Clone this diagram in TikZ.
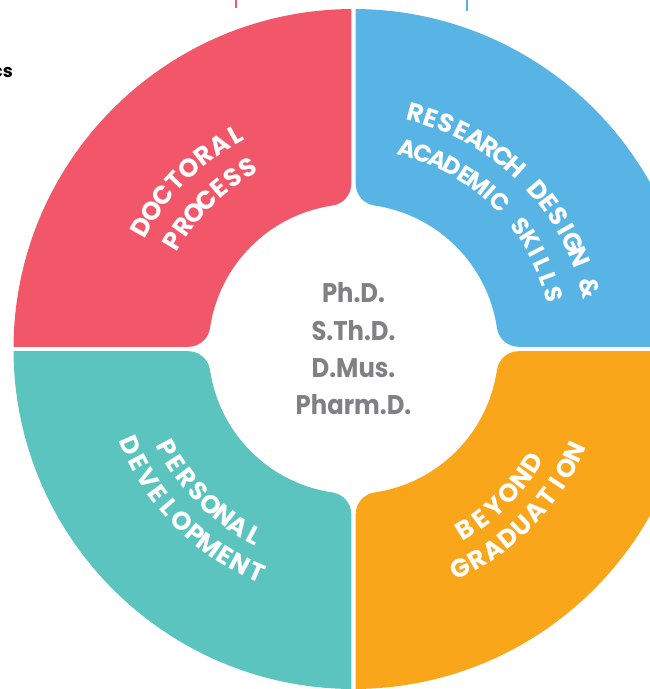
\documentclass[tikz,border=0pt]{standalone}
\usepackage{fontspec}
\setmainfont{Poppins}
\newfontfamily\ctrfont{Poppins}[FakeStretch=0.9]
\definecolor{redC}{HTML}{F15769}
\definecolor{blueC}{HTML}{57B4E5}
\definecolor{tealC}{HTML}{5CC4BE}
\definecolor{orangeC}{HTML}{F9A61B}
\definecolor{greyC}{HTML}{808184}
\newcommand\lblf{\fontsize{25.5}{30}\selectfont\bfseries}
\newcommand\SP{\kern0.25em}
\newcommand\II{\kern-1.8pt I\kern-1.8pt}
\newdimen\chw
% #1 name, #2 baseline radius, #3 angle of first letter centre, #4 angle of last letter centre, #5 direction (-1 cw, 1 ccw), #6 letters
\newcommand\arcline[6]{%
  \gdef\accw{0}\gdef\accn{0}%
  \foreach \ch [count=\k] in {#6}{%
    \setbox0=\hbox{\lblf\ch}\global\chw=\wd0\relax
    \pgfmathsetmacro\cw{\the\chw}%
    \ifnum\k=1 \xdef\wfirst{\cw}\fi
    \xdef\wlast{\cw}%
    \pgfmathsetmacro\tmpw{\accw+\cw}\xdef\accw{\tmpw}%
    \xdef\accn{\k}%
  }%
  \pgfmathsetmacro\trk{(abs((#4)-(#3))*(#2)/57.29578-(\accw-0.5*\wfirst-0.5*\wlast))/(\accn-1)}%
  \gdef\accp{0}%
  \foreach \ch [count=\k] in {#6}{%
    \setbox0=\hbox{\lblf\ch}\global\chw=\wd0\relax
    \pgfmathsetmacro\cw{\the\chw}%
    \pgfmathsetmacro\midp{\accp+0.5*\cw-0.5*\wfirst}%
    \pgfmathsetmacro\ang{(#3)+(#5)*\midp/(#2)*57.29578}%
    \pgfmathsetmacro\rot{\ang+90*(#5)}%
    \node[letter, rotate=\rot] (#1-\k) at (\ang:#2pt) {\ch};%
    \pgfmathsetmacro\tmpp{\accp+\cw+\trk}\xdef\accp{\tmpp}%
  }%
}
\tikzset{
  letter/.style={anchor=base, inner sep=0pt, text=white, font=\lblf},
  tick/.style={line width=2.5pt},
}
\begin{document}
\begin{tikzpicture}[x=1pt,y=1pt]
\useasboundingbox (-353.5,-340) rectangle (296.5,349);
\fill[white] (-353.5,-340) rectangle (296.5,349);
\pgfmathsetmacro\ro{340}
\pgfmathsetmacro\ri{145}
\pgfmathsetmacro\gp{2.2}
\pgfmathsetmacro\rc{22}
\pgfmathsetmacro\ao{asin(\gp/\ro)}
\pgfmathsetmacro\aa{90-\ao}
\pgfmathsetmacro\ph{acos((\gp+\rc)/(\ri+\rc))}
\pgfmathsetmacro\pb{90-\ph}
\pgfmathsetmacro\pc{270-\ph}
\pgfmathsetmacro\pd{180+\ph}
\pgfmathsetmacro\yc{(\ri+\rc)*sin(\ph)}
\foreach \rot/\col in {0/blueC,90/redC,180/tealC,270/orangeC}{
  \fill[\col, rotate=\rot] (\aa:\ro pt) arc[start angle=\aa, end angle=\ao, radius=\ro pt]
    -- (\yc pt,\gp pt) arc[start angle=270, end angle=\pc, radius=\rc pt]
    arc[start angle=\pb, end angle=\ph, radius=\ri pt]
    arc[start angle=\pd, end angle=180, radius=\rc pt] -- cycle;
}
% labels
\arcline{doc}{235.5}{150.1}{118.8}{-1}{D,O,C,T,O,R,A,L}
\arcline{pro}{201}{149.1}{120.4}{-1}{P,R,O,C,E,S,S}
\arcline{res}{235}{75.3}{14.5}{-1}{R,E,S,E,A,R,C,H,\SP,D,E,S,\II,G,N,\SP,\&}
{\renewcommand\lblf{\fontsize{24}{28}\selectfont\bfseries}%
\arcline{aca}{199}{74.9}{15.3}{-1}{A,C,A,D,E,M,\II,C,\SP,S,K,\II,L,L,S}}
\arcline{per}{220}{208}{241.9}{1}{P,E,R,S,O,N,A,L}
\arcline{dev}{252}{203.5}{246.6}{1}{D,E,V,E,L,O,P,M,E,N,T}
\arcline{bey}{221}{301.6}{327.4}{1}{B,E,Y,O,N,D}
\arcline{gra}{253}{295.9}{335.1}{1}{G,R,A,D,U,A,T,\II,O,N}
% centre
\node[text=greyC, align=center, inner sep=0pt, font=\ctrfont\fontsize{27}{37.3}\selectfont\bfseries] (degrees) at (0,0) {Ph.D.\\S.Th.D.\\D.Mus.\\Pharm.D.};
\node[anchor=base east, inner sep=0pt, font=\fontsize{18}{18}\selectfont\bfseries] (cs) at (-340.5,271.5) {cs};
\coordinate (rt) at (-117.5,349);
\coordinate (rb) at (-117.5,341);
\coordinate (bt) at (113.5,349);
\coordinate (bb) at (113.5,338);
\draw[tick, redC] (rt) -- (rb);
\draw[tick, blueC] (bt) -- (bb);
\end{tikzpicture}
\end{document}
